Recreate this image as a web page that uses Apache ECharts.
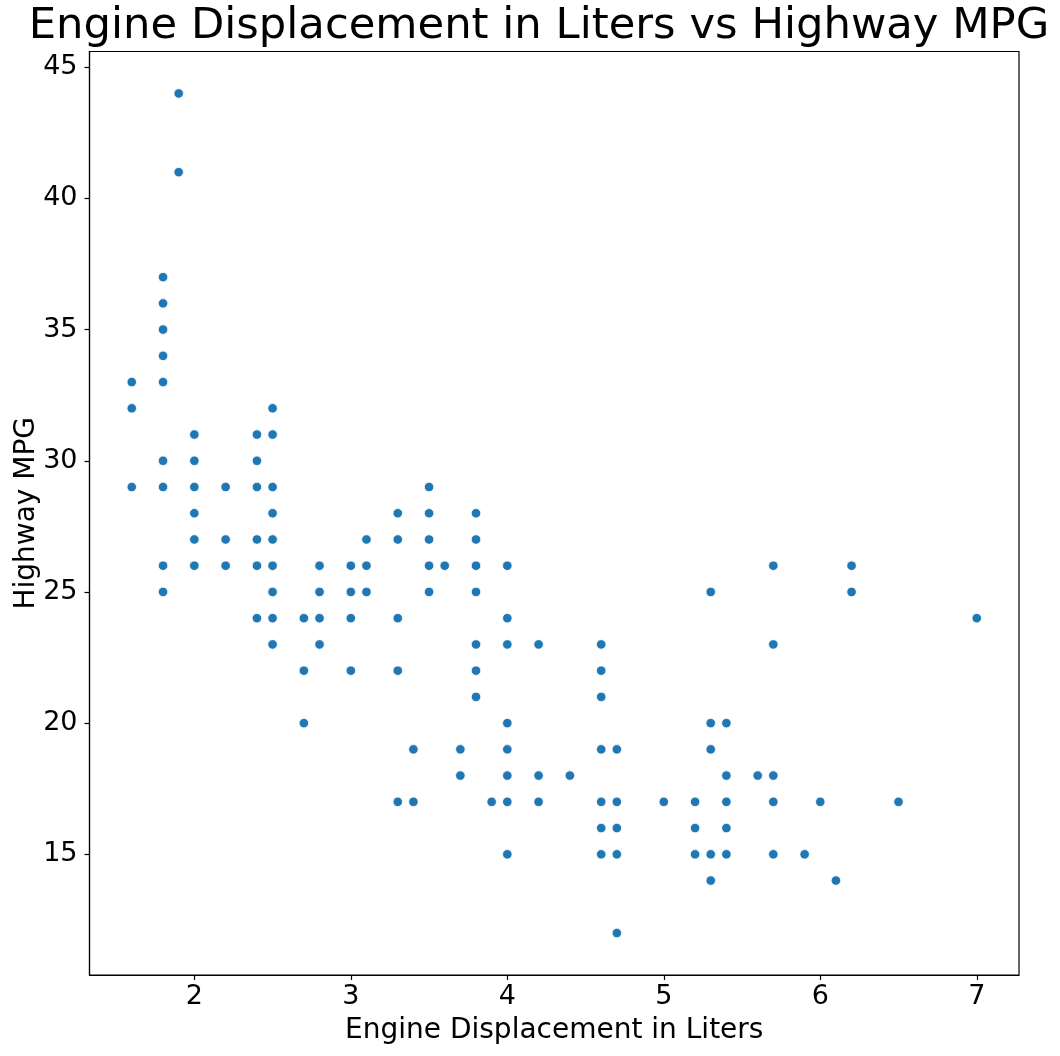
<!DOCTYPE html>
<html>
<head>
<meta charset="utf-8">
<script src="https://cdn.jsdelivr.net/npm/echarts@6/dist/echarts.min.js"></script>
<style>html,body{margin:0;padding:0;background:#fff;}#c{width:1060px;height:1056px;}</style>
</head>
<body>
<div id="c"></div>
<script>
const displ = [
  1.6,1.6,1.6,
  1.8,1.8,1.8,1.8,1.8,1.8,1.8,1.8,1.8,
  1.9,1.9,
  2.0,2.0,2.0,2.0,2.0,2.0,
  2.2,2.2,2.2,
  2.4,2.4,2.4,2.4,2.4,2.4,
  2.5,2.5,2.5,2.5,2.5,2.5,2.5,2.5,2.5,
  2.7,2.7,2.7,
  2.8,2.8,2.8,2.8,
  3.0,3.0,3.0,3.0,
  3.1,3.1,3.1,
  3.3,3.3,3.3,3.3,3.3,
  3.4,3.4,
  3.5,3.5,3.5,3.5,3.5,
  3.6,
  3.7,3.7,
  3.8,3.8,3.8,3.8,3.8,3.8,3.8,
  3.9,
  4.0,4.0,4.0,4.0,4.0,4.0,4.0,4.0,
  4.2,4.2,4.2,
  4.4,
  4.6,4.6,4.6,4.6,4.6,4.6,4.6,
  4.7,4.7,4.7,4.7,4.7,
  5.0,
  5.2,5.2,5.2,
  5.3,5.3,5.3,5.3,5.3,
  5.4,5.4,5.4,5.4,5.4,
  5.6,
  5.7,5.7,5.7,5.7,5.7,
  5.9,
  6.0,
  6.1,
  6.2,6.2,
  6.5,
  7.0
];
const hwy = [
  33,32,29,
  37,36,35,34,33,30,29,26,25,
  44,41,
  31,30,29,28,27,26,
  29,27,26,
  31,30,29,27,26,24,
  32,31,29,28,27,26,25,24,23,
  24,22,20,
  26,25,24,23,
  26,25,24,22,
  27,26,25,
  28,27,24,22,17,
  19,17,
  29,28,27,26,25,
  26,
  19,18,
  28,27,26,25,23,22,21,
  17,
  26,24,23,20,19,18,17,15,
  23,18,17,
  18,
  23,22,21,19,17,16,15,
  19,17,16,15,12,
  17,
  17,16,15,
  25,20,19,15,14,
  20,18,17,16,15,
  18,
  26,23,18,17,15,
  15,
  17,
  14,
  26,25,
  17,
  24
];
const xTicks = [2,3,4,5,6,7];
const yTicks = [15,20,25,30,35,40,45];

const points = displ.map((d,i)=>[d,hwy[i]]);
const font = 'DejaVu Sans';
const chart = echarts.init(document.getElementById('c'), null, {renderer:'canvas'});
chart.setOption({
  backgroundColor:'#fff',
  animation:false,
  title:{
    text:'Engine Displacement in Liters vs Highway MPG',
    left:534, top:0, textAlign:'center',
    textStyle:{fontFamily:font, fontSize:43.3, fontWeight:'normal', color:'#000'}
  },
  grid:{left:89.5, right:41, top:51.5, bottom:81, show:true, borderColor:'#000', borderWidth:1.2, backgroundColor:'transparent'},
  xAxis:{
    type:'value', min:1.33, max:7.27,
    name:'Engine Displacement in Liters', nameLocation:'middle', nameGap:42, nameMoveOverlap:false,
    nameTextStyle:{fontFamily:font, fontSize:28, color:'#000'},
    axisLine:{show:true, onZero:false, lineStyle:{color:'#000', width:1.2}},
    axisTick:{show:true, length:5, customValues:xTicks, lineStyle:{color:'#000', width:1.2}},
    axisLabel:{fontFamily:font, fontSize:27, color:'#000', margin:8, customValues:xTicks},
    splitLine:{show:false}
  },
  yAxis:{
    type:'value', min:10.4, max:45.6,
    name:'Highway MPG', nameLocation:'middle', nameGap:49, nameMoveOverlap:false,
    nameTextStyle:{fontFamily:font, fontSize:28, color:'#000'},
    axisLine:{show:true, onZero:false, lineStyle:{color:'#000', width:1.2}},
    axisTick:{show:true, length:5, customValues:yTicks, lineStyle:{color:'#000', width:1.2}},
    axisLabel:{fontFamily:font, fontSize:27, color:'#000', margin:12, customValues:yTicks},
    splitLine:{show:false}
  },
  series:[{
    type:'scatter', data:points, symbol:'circle', symbolSize:9.5,
    itemStyle:{color:'#1f77b4', borderColor:'#fff', borderWidth:0.8, opacity:1}
  }]
});
</script>
</body>
</html>
